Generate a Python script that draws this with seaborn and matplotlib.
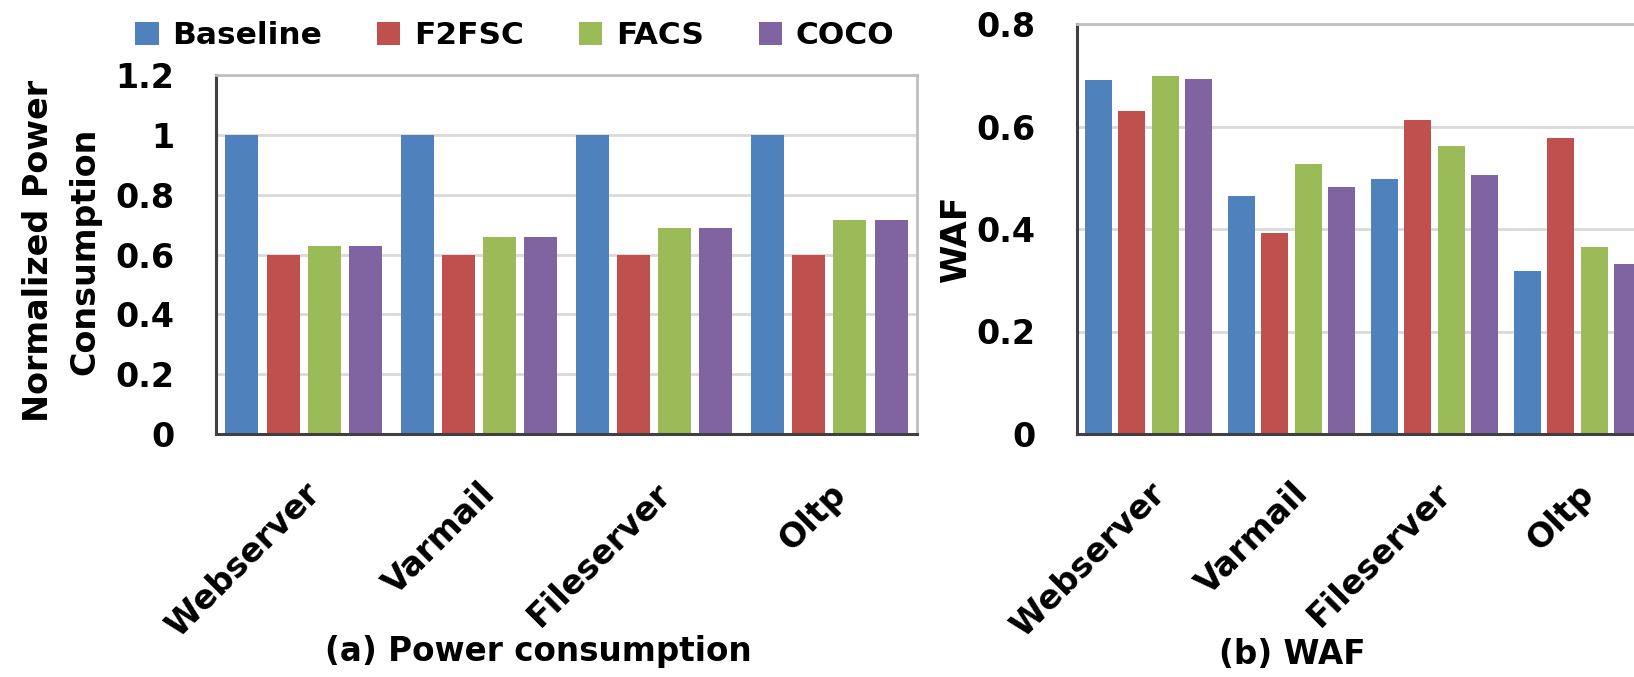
import matplotlib
matplotlib.use("Agg")
import matplotlib.pyplot as plt
import seaborn as sns
import pandas as pd
from matplotlib.patches import Patch

categories = ["Webserver", "Varmail", "Fileserver", "Oltp"]
schemes = ["Baseline", "F2FSC", "FACS", "COCO"]
colors = ["#4F81BD", "#C0504D", "#9BBB59", "#8064A2"]

power_baseline = [1.0, 1.0, 1.0, 1.0]
power_f2fsc = [0.60, 0.60, 0.60, 0.60]
power_facs = [0.63, 0.66, 0.69, 0.715]
power_coco = [0.63, 0.66, 0.69, 0.715]

waf_baseline = [0.690, 0.465, 0.497, 0.319]
waf_f2fsc = [0.630, 0.393, 0.613, 0.577]
waf_facs = [0.698, 0.527, 0.562, 0.365]
waf_coco = [0.693, 0.481, 0.505, 0.332]

power_ticks = [0, 0.2, 0.4, 0.6, 0.8, 1, 1.2]
power_ticklabels = ["0", "0.2", "0.4", "0.6", "0.8", "1", "1.2"]
waf_ticks = [0, 0.2, 0.4, 0.6, 0.8]
waf_ticklabels = ["0", "0.2", "0.4", "0.6", "0.8"]


def long_df(series):
    rows = []
    for s, vals in zip(schemes, series):
        for c, v in zip(categories, vals):
            rows.append({"cat": c, "scheme": s, "val": v})
    return pd.DataFrame(rows)


power_df = long_df([power_baseline, power_f2fsc, power_facs, power_coco])
waf_df = long_df([waf_baseline, waf_f2fsc, waf_facs, waf_coco])

sns.set_theme(style="white")
plt.rcParams["font.family"] = ["DejaVu Sans"]
plt.rcParams["font.weight"] = "bold"
plt.rcParams["text.color"] = "black"

W, H = 1634, 677
fig = plt.figure(figsize=(W / 100, H / 100), dpi=100)
ax1 = fig.add_axes([216 / W, 1 - 434 / H, 701 / W, (434 - 75) / H])
ax2 = fig.add_axes([1077 / W, 1 - 434 / H, 572 / W, (434 - 24) / H])

for ax, df, ticks, tlabels, ylim in [
    (ax1, power_df, power_ticks, power_ticklabels, (0, 1.2)),
    (ax2, waf_df, waf_ticks, waf_ticklabels, (0, 0.8)),
]:
    sns.barplot(data=df, x="cat", y="val", hue="scheme", order=categories,
                hue_order=schemes, palette=colors, width=0.94, gap=0.2,
                saturation=1, ax=ax, legend=False, linewidth=0)
    ax.set_xlim(-0.5, 3.5)
    ax.set_ylim(*ylim)
    ax.set_yticks(ticks)
    ax.set_yticklabels(tlabels, fontsize=24, fontweight="bold", color="black")
    ax.set_xticks(range(len(categories)))
    ax.set_xticklabels(categories, rotation=45, ha="right", va="top",
                       rotation_mode="anchor", fontsize=24, fontweight="bold",
                       color="black")
    ax.tick_params(axis="x", length=0, pad=31)
    ax.tick_params(axis="y", length=0, pad=30)
    ax.yaxis.grid(True, color="#d9d9d9", linewidth=2)
    ax.set_axisbelow(True)
    ax.set_xlabel("")
    for side in ["left", "bottom"]:
        ax.spines[side].set_color("#404040")
        ax.spines[side].set_linewidth(2.2)
    for side in ["top", "right"]:
        ax.spines[side].set_color("#bfbfbf")
        ax.spines[side].set_linewidth(2)

ax1.set_ylabel("Normalized Power\nConsumption", fontsize=24, fontweight="bold",
               color="black", linespacing=1.5)
ax1.yaxis.set_label_coords(-0.164, 0.51)
ax2.set_ylabel("WAF", fontsize=25, fontweight="bold", color="black")
ax2.yaxis.set_label_coords(-0.182, 0.478)

handles = [Patch(facecolor=c, edgecolor="none") for c in colors]
fig.legend(handles, schemes, loc="center", bbox_to_anchor=(515 / W, 1 - 36 / H),
           ncol=4, frameon=False, prop={"size": 22.5, "weight": "bold"},
           handlelength=0.74, handleheight=0.74, handletextpad=0.45,
           columnspacing=1.75, borderaxespad=0, borderpad=0)

fig.text(538 / W, 1 - 652 / H, "(a) Power consumption", ha="center", va="center",
         fontsize=23.5, fontweight="bold")
fig.text(1292 / W, 1 - 654 / H, "(b) WAF", ha="center", va="center",
         fontsize=23.5, fontweight="bold")

fig.savefig("out.png", dpi=100)
